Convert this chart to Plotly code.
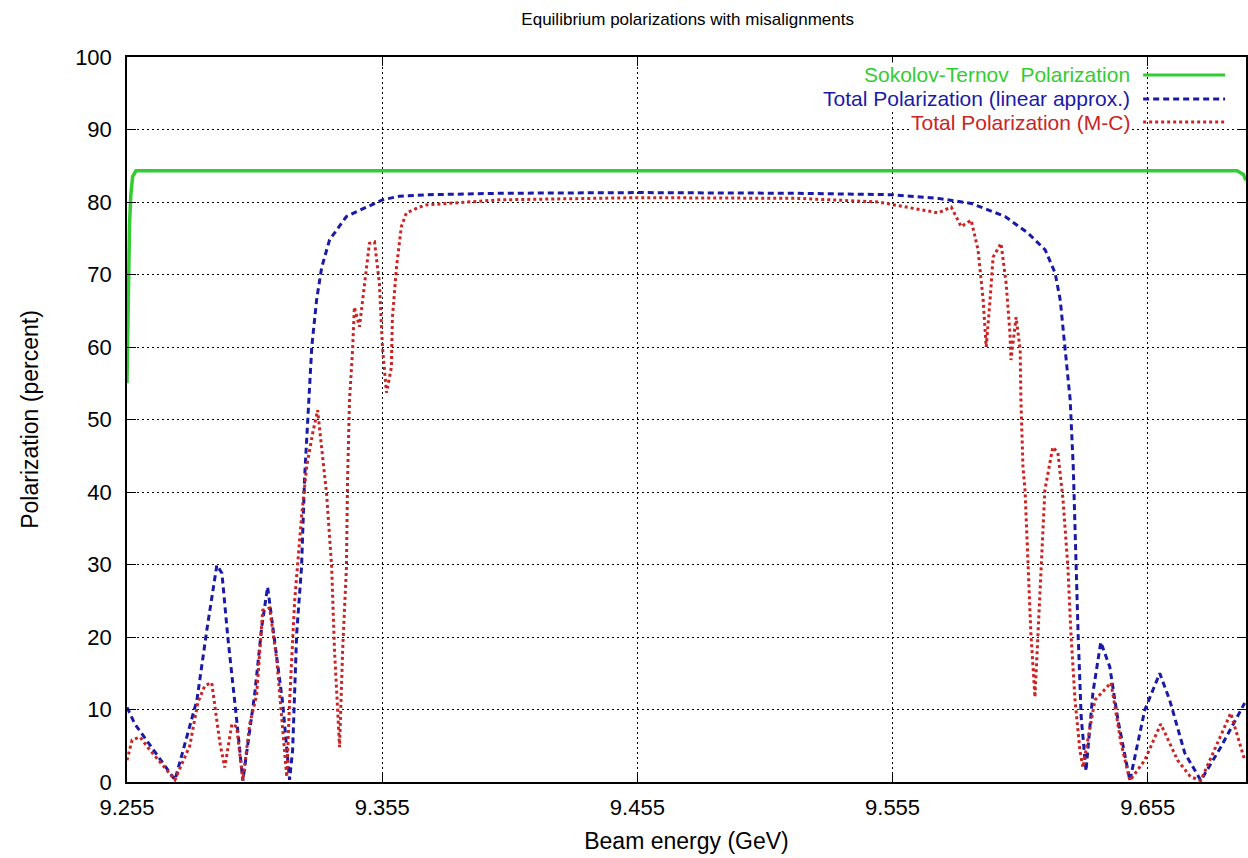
import plotly.graph_objects as go

# ---------------- data ----------------
st_energy = [9.2550, 9.2553, 9.2556, 9.2560, 9.2565, 9.2572, 9.2585, 9.4500, 9.6900, 9.6925, 9.6935]
st_pol = [55.0, 62.0, 70.0, 77.0, 81.0, 83.5, 84.3, 84.3, 84.3, 83.8, 83.0]

lin_energy = [9.2550, 9.2581, 9.2738, 9.2824, 9.2863, 9.2902, 9.2922, 9.2945, 9.2980, 9.3004,
              9.3051, 9.3078, 9.3101, 9.3129, 9.3160, 9.3187, 9.3199, 9.3215, 9.3234, 9.3246,
              9.3258, 9.3274, 9.3293, 9.3313, 9.3344, 9.3410, 9.3489, 9.3551, 9.3618, 9.3723,
              9.4009, 9.4552, 9.5182, 9.5550, 9.5730, 9.5859, 9.5991, 9.6081, 9.6148, 9.6187,
              9.6207, 9.6226, 9.6246, 9.6258, 9.6269, 9.6277, 9.6289, 9.6308, 9.6335, 9.6366,
              9.6401, 9.6433, 9.6480, 9.6538, 9.6597, 9.6636, 9.6695, 9.6758, 9.6836, 9.6930]
lin_pol = [10.3, 8.0, 0.3, 11.3, 21.0, 29.9, 28.8, 20.0, 8.5, 0.2,
           12.3, 21.4, 26.9, 19.2, 10.9, 0.3, 4.4, 20.5, 29.7, 42.0,
           50.3, 60.0, 66.5, 71.0, 74.8, 78.0, 79.3, 80.3, 80.8, 81.0,
           81.2, 81.3, 81.2, 81.0, 80.5, 79.8, 78.0, 75.7, 73.4, 70.2,
           66.5, 60.0, 52.7, 43.5, 29.7, 20.5, 9.0, 1.5, 12.3, 19.3,
           15.9, 8.6, 0.2, 9.9, 15.0, 11.3, 4.0, 0.2, 4.8, 10.9]

mc_energy = [9.2550, 9.2570, 9.2601, 9.2640, 9.2738, 9.2796, 9.2828, 9.2855, 9.2882, 9.2914,
             9.2933, 9.2961, 9.2980, 9.3004, 9.3031, 9.3058, 9.3082, 9.3109, 9.3137, 9.3160,
             9.3176, 9.3187, 9.3207, 9.3234, 9.3254, 9.3277, 9.3297, 9.3313, 9.3332, 9.3352,
             9.3363, 9.3375, 9.3383, 9.3395, 9.3410, 9.3414, 9.3422, 9.3434, 9.3441, 9.3461,
             9.3481, 9.3500, 9.3520, 9.3539, 9.3551, 9.3567, 9.3586, 9.3590, 9.3606, 9.3625,
             9.3645, 9.3696, 9.3723, 9.4009, 9.4552, 9.5182, 9.5494, 9.5572, 9.5729, 9.5780,
             9.5819, 9.5858, 9.5885, 9.5905, 9.5917, 9.5932, 9.5944, 9.5975, 9.5995, 9.6010,
             9.6014, 9.6034, 9.6050, 9.6053, 9.6061, 9.6069, 9.6081, 9.6092, 9.6108, 9.6120,
             9.6131, 9.6147, 9.6178, 9.6198, 9.6218, 9.6237, 9.6249, 9.6265, 9.6284, 9.6296,
             9.6343, 9.6406, 9.6445, 9.6480, 9.6538, 9.6601, 9.6667, 9.6718, 9.6758, 9.6875,
             9.6930]
mc_pol = [3.0, 5.8, 6.2, 4.4, 0.3, 5.0, 11.0, 13.3, 13.7, 5.4,
          2.0, 8.0, 7.6, 0.2, 8.0, 12.0, 23.7, 24.0, 16.8, 7.6,
          0.7, 11.0, 25.0, 36.6, 43.5, 48.0, 51.3, 46.0, 39.8, 29.7,
          18.2, 10.3, 4.8, 18.2, 29.7, 41.2, 52.7, 59.6, 65.5, 62.8,
          68.8, 74.3, 74.5, 68.8, 60.0, 53.7, 57.2, 64.0, 71.0, 76.6,
          78.5, 79.3, 79.6, 80.3, 80.6, 80.5, 80.0, 79.5, 78.5, 79.3,
          76.6, 77.5, 73.4, 66.5, 60.0, 66.5, 72.4, 74.3, 68.8, 61.9,
          58.2, 64.1, 59.6, 52.7, 43.4, 40.3, 29.7, 20.5, 11.7, 20.5,
          29.7, 40.3, 46.2, 45.4, 38.9, 29.7, 20.5, 11.3, 4.4, 2.0,
          11.3, 13.7, 5.4, 0.2, 3.0, 8.0, 3.0, 0.7, 0.2, 9.5,
          3.0]

x_ticks = [9.255, 9.355, 9.455, 9.555, 9.655]
x_tick_labels = ["9.255", "9.355", "9.455", "9.555", "9.655"]
y_ticks = [0, 10, 20, 30, 40, 50, 60, 70, 80, 90, 100]

legend_names = ["Sokolov-Ternov  Polarization", "Total Polarization (linear approx.)", "Total Polarization (M-C)"]

# ---------------- style ----------------
GREEN = "#33cc33"
BLUE = "#1a1aa8"
RED = "#cc2424"
FONT = "Liberation Sans, Arial, sans-serif"

fig = go.Figure()
fig.add_trace(go.Scatter(x=st_energy, y=st_pol, mode="lines", name=legend_names[0],
                         line=dict(color=GREEN, width=3.5)))
fig.add_trace(go.Scatter(x=lin_energy, y=lin_pol, mode="lines", name=legend_names[1],
                         line=dict(color=BLUE, width=3, dash="6px,4px")))
fig.add_trace(go.Scatter(x=mc_energy, y=mc_pol, mode="lines", name=legend_names[2],
                         line=dict(color=RED, width=3, dash="3px,3px")))

fig.update_layout(
    width=1248, height=858,
    margin=dict(l=127, r=0, t=57, b=76),
    paper_bgcolor="white", plot_bgcolor="white",
    showlegend=False,
    font=dict(family=FONT, color="black", size=20),
    title=dict(text="Equilibrium polarizations with misalignments", x=0.551, xanchor="center",
               y=0.978, yanchor="middle", font=dict(size=17)),
)
fig.update_xaxes(range=[9.255, 9.6935], tickvals=x_ticks, ticktext=x_tick_labels,
                 showline=True, linecolor="black", linewidth=1.5, mirror="ticks",
                 ticks="inside", ticklen=9, tickcolor="black", ticklabelstandoff=5,
                 showgrid=True, gridcolor="black", gridwidth=1, griddash="2px,3px",
                 zeroline=False, title=dict(text="Beam energy (GeV)", standoff=14, font=dict(size=23)),
                 tickfont=dict(size=22))
fig.update_yaxes(range=[0, 100], tickvals=y_ticks,
                 showline=True, linecolor="black", linewidth=1.5, mirror="ticks",
                 ticks="inside", ticklen=9, tickcolor="black", ticklabelstandoff=9,
                 showgrid=True, gridcolor="black", gridwidth=1, griddash="2px,3px",
                 zeroline=False, title=dict(text="Polarization (percent)", standoff=30, font=dict(size=23)),
                 tickfont=dict(size=22))

# gnuplot-style key: right-aligned text with line sample at its right
key_colors = [GREEN, BLUE, RED]
key_dash = ["solid", "6px,4px", "3px,3px"]
key_y = [0.9752, 0.9421, 0.9103]
for name, c, d, yy in zip(legend_names, key_colors, key_dash, key_y):
    fig.add_annotation(x=0.8974, y=yy, xref="paper", yref="paper", text=name, showarrow=False,
                       xanchor="right", yanchor="middle", font=dict(color=c, size=21), bgcolor="white",
                       borderpad=0)
    fig.add_shape(type="line", xref="paper", yref="paper", x0=0.9081, x1=0.9813, y0=yy, y1=yy,
                  line=dict(color=c, width=3, dash=d))

fig.write_html("out.html")
